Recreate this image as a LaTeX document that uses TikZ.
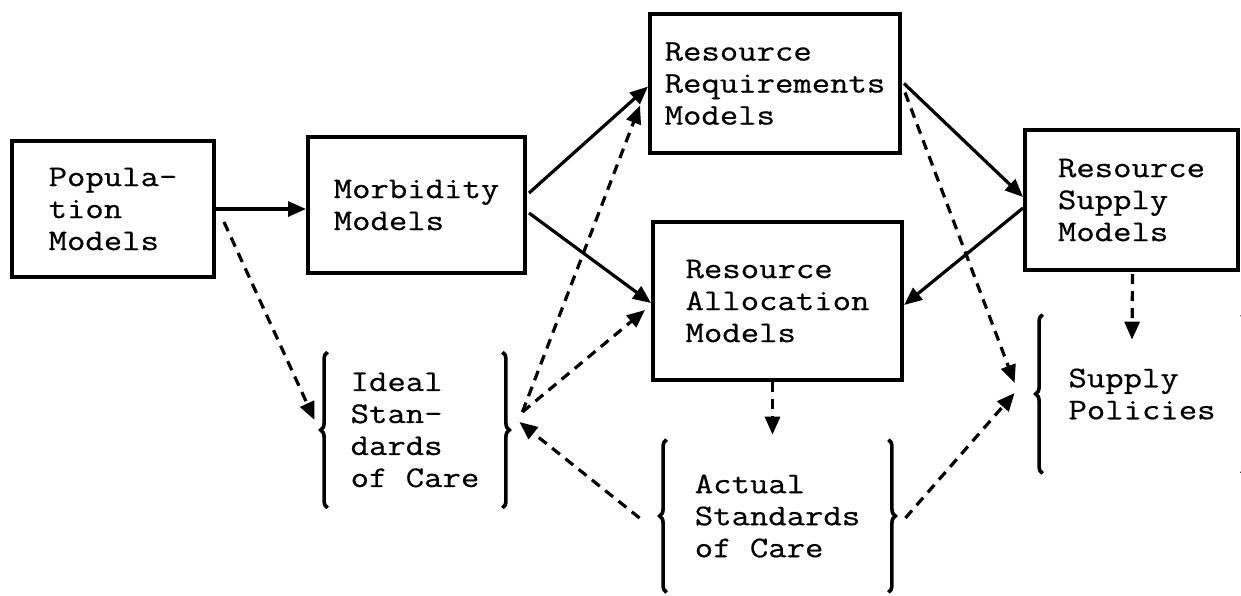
\documentclass[tikz,border=0pt]{standalone}
\usepackage{fontspec}
\setmonofont{Latin Modern Mono}[FakeStretch=1.19,FakeBold=0.6]
\usetikzlibrary{arrows.meta,calc,decorations.pathreplacing}

\begin{document}
\begin{tikzpicture}[x=.5pt,y=-.5pt,
  txt/.style={align=left,inner sep=0pt,font=\ttfamily\fontsize{15}{16}\selectfont},
  model/.style={txt,draw,line width=2pt},
  flow/.style={line width=1.6pt,-{Triangle[length=9pt,width=7.5pt]}},
  hint/.style={flow,dash pattern=on 5pt off 3.5pt},
  curly/.style={line width=1.8pt,decorate,decoration={brace,amplitude=3.5pt}}]
\path[use as bounding box] (0,0) rectangle (1241,595);

% boxed models
\node[model,minimum width=101pt,minimum height=68pt] (pop) at (113,209) {Popula-\\tion\\Models};
\node[model,minimum width=108.5pt,minimum height=68pt] (morb) at (416.5,205) {Morbidity\\Models};
\node[model,minimum width=125pt,minimum height=69.5pt] (req) at (775,83.5) {Resource\\Requirements\\Models};
\node[model,minimum width=124.5pt,minimum height=79pt] (alloc) at (777.5,301) {Resource\\Allocation\\Models};
\node[model,minimum width=106.5pt,minimum height=70pt] (supply) at (1131.5,200) {Resource\\Supply\\Models};

% standards and policies in braces
\node[txt,minimum width=87pt,minimum height=77.5pt] (ideal) at (415,430) {Ideal\\Stan-\\dards\\of Care};
\node[txt,minimum width=110.5pt,minimum height=76pt] (actual) at (777.5,516) {Actual\\Standards\\of Care};
\node[txt,minimum width=99pt,minimum height=79pt] (pol) at (1142,394) {Supply\\Policies};
\draw[curly] (ideal.south west) -- (ideal.north west);
\draw[curly] (ideal.north east) -- (ideal.south east);
\draw[curly] (actual.south west) -- (actual.north west);
\draw[curly] (actual.north east) -- (actual.south east);
\draw[curly] (pol.south west) -- (pol.north west);
\draw[curly] (pol.north east) -- (pol.south east);

% solid flows
\draw[flow] (pop.east) -- (pop.east -| morb.west);
\draw[flow] ($(morb.east)+(2,-12)$) -- ($(req.west)+(0,3)$);
\draw[flow] ($(morb.east)+(2,8)$) -- ($(alloc.west)+(0,2)$);
\draw[flow] ($(req.east)+(2,0)$) -- ($(supply.west)+(0,-3)$);
\draw[flow] ($(supply.west)+(0,8)$) -- ($(alloc.east)+(0,4)$);

% dashed flows
\draw[hint] ($(pop.east)+(8,13)$) -- ($(ideal.west)+(-13,-10)$);
\draw[hint] ($(ideal.east)+(20,-18)$) -- ($(req.west)+(-8,22)$);
\draw[hint] ($(ideal.east)+(20,-18)$) -- ($(alloc.west)+(-6,9)$);
\draw[hint] ($(actual.west)+(-27,2)$) -- ($(ideal.east)+(17,-8)$);
\draw[hint] ($(alloc.south)+(-5,0)$) -- ($(actual.north)+(-5,-5)$);
\draw[hint] ($(actual.east)+(17,2)$) -- ($(pol.west)+(-28,-1)$);
\draw[hint] ($(req.east)+(3,9)$) -- ($(pol.west)+(-28,-11)$);
\draw[hint] ($(supply.south)+(1,2)$) -- ($(pol.north)+(-10,25)$);
\end{tikzpicture}
\end{document}
